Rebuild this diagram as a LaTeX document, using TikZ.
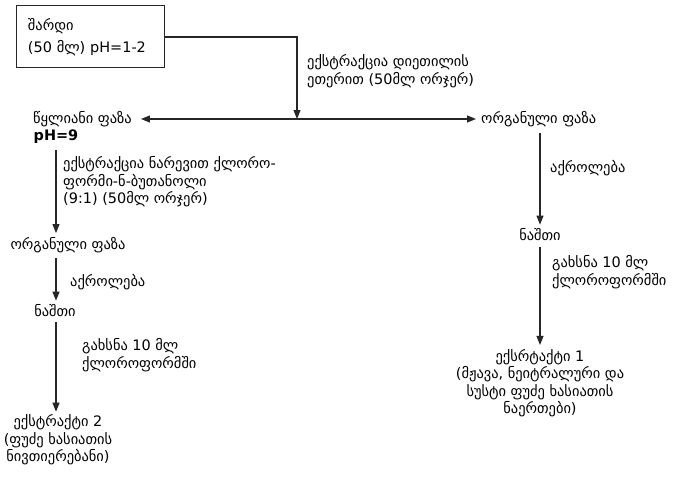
\documentclass[tikz,border=0pt]{standalone}
\usepackage{fontspec}
\setmainfont{DejaVu Sans}
\usetikzlibrary{arrows.meta,positioning}

\begin{document}
\begin{tikzpicture}[x=1bp,y=-1bp,
  font=\fontsize{14.5}{17.5}\selectfont,
  flow/.style={draw=black!85, line width=1.1pt, -{Triangle[length=9pt,width=7pt]}},
  lbl/.style={anchor=west, align=left, inner sep=0pt},
  phase/.style={inner sep=0pt, align=center}]
  \useasboundingbox[fill=white] (0,0) rectangle (675,489);
  % sample
  \node[draw=black!85, line width=1pt, minimum width=148bp, minimum height=62bp,
        align=left, text width=124bp] (urine) at (90,37) {შარდი\\[4bp](50 მლ) pH=1-2};
  \coordinate (split) at (297,119);
  \node[phase, anchor=east] (water) at (132,119) {წყლიანი ფაზა};
  \node[phase, font=\fontsize{14.5}{17.5}\selectfont\bfseries] (ph9) at (56,137) {pH=9};
  \node[phase, anchor=west] (orgR) at (481,119) {ორგანული ფაზა};
  \draw[flow] (urine.east) -| (split);
  \draw[flow] (split) -- ([xshift=9bp]water.east);
  \draw[flow] (split) -- ([xshift=-5bp]orgR.west);
  \node[lbl] at (307,71) {ექსტრაქცია დიეთილის\\ეთერით (50მლ ორჯერ)};
  % left branch
  \node[phase] (orgL) at (68,245) {ორგანული ფაზა};
  \node[phase] (restL) at (55,311) {ნაშთი};
  \node[phase] (ext2) at (58,440) {ექსტრაქტი 2\\(ფუძე ხასიათის\\ნივთიერებანი)};
  \draw[flow] ([yshift=-6bp]ph9.south) -- ([yshift=4bp]orgL.north -| ph9.south);
  \draw[flow] ([yshift=-5bp]orgL.south -| ph9.south) -- ([yshift=4bp]restL.north -| ph9.south);
  \draw[flow] ([yshift=-5bp]restL.south -| ph9.south) -- ([yshift=3bp]ext2.north -| ph9.south);
  \node[lbl] at (63,182) {ექსტრაქცია ნარევით ქლორო-\\ფორმი-ნ-ბუთანოლი\\(9:1) (50მლ ორჯერ)};
  \node[lbl] at (70,282) {აქროლება};
  \node[lbl] at (82,355) {გახსნა 10 მლ\\ქლოროფორმში};
  % right branch
  \node[phase] (restR) at (540,235) {ნაშთი};
  \node[phase] (ext1) at (540,383) {ექსრტაქტი 1\\(მჟავა, ნეიტრალური და\\სუსტი ფუძე ხასიათის\\ნაერთები)};
  \draw[flow] ([yshift=-6bp]orgR.south -| restR) -- ([yshift=4bp]restR.north);
  \draw[flow] ([yshift=-6bp]restR.south) -- ([yshift=4bp]ext1.north);
  \node[lbl] at (550,168) {აქროლება};
  \node[lbl] at (552,272) {გახსნა 10 მლ\\ქლოროფორმში};
\end{tikzpicture}
\end{document}
